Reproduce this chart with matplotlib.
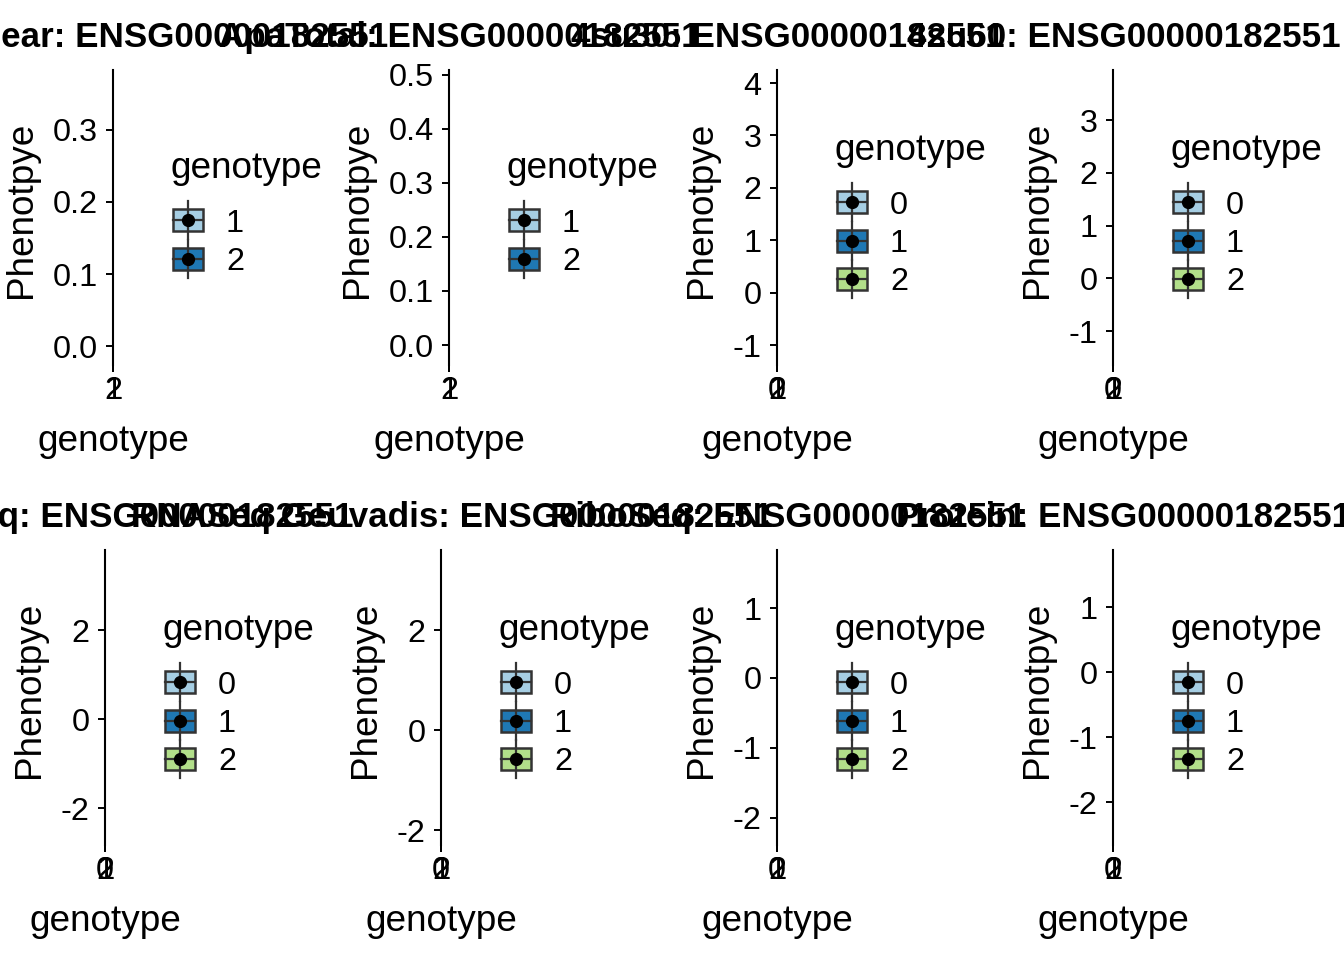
import matplotlib
matplotlib.use("Agg")
import matplotlib.pyplot as plt
from matplotlib.transforms import Affine2D
from matplotlib.patches import Rectangle
from matplotlib.lines import Line2D
from matplotlib.ticker import FormatStrFormatter

plt.rcParams["font.family"] = ["Liberation Sans", "DejaVu Sans"]
plt.rcParams["axes.unicode_minus"] = False

# ---------------- data ----------------
titles = [
    "ApaNuclear: ENSG00000182551",
    "ApaTotal: ENSG00000182551",
    "4su30: ENSG00000182551",
    "4su60: ENSG00000182551",
    "RNASeq: ENSG00000182551",
    "RNASeq Geuvadis: ENSG00000182551",
    "RiboSeq: ENSG00000182551",
    "Protein: ENSG00000182551",
]
genotypes = [[1, 2], [1, 2], [0, 1, 2], [0, 1, 2],
             [0, 1, 2], [0, 1, 2], [0, 1, 2], [0, 1, 2]]
y_limits = [(-0.026, 0.383), (-0.037, 0.509), (-1.38, 4.25), (-1.64, 3.95),
            (-2.83, 3.80), (-2.30, 3.60), (-2.39, 1.83), (-2.66, 1.88)]
y_ticks = [[0.0, 0.1, 0.2, 0.3], [0.0, 0.1, 0.2, 0.3, 0.4, 0.5],
           [-1, 0, 1, 2, 3, 4], [-1, 0, 1, 2, 3],
           [-2, 0, 2], [-2, 0, 2], [-2, -1, 0, 1], [-2, -1, 0, 1]]
y_decimals = [1, 1, 0, 0, 0, 0, 0, 0]
palette = ["#A6CEE3", "#1F78B4", "#B2DF8A"]
x_label = "genotype"
y_label = "Phenotpye"
legend_title = "genotype"

# ---------------- layout ----------------
W, H = 1344, 960
fig = plt.figure(figsize=(W / 100, H / 100), dpi=100)
pix = Affine2D().scale(1 / W, -1 / H).translate(0, 1) + fig.transFigure

axis_x = [113, 449, 777, 1113, 105, 441, 777, 1113]
row_top = [70, 550]
row_bot = [365, 845]
EDGE = "#333333"

for i in range(8):
    r = i // 4
    ax_x = axis_x[i]
    yt, yb = row_top[r], row_bot[r]
    ax = fig.add_axes([ax_x / W, 1 - yb / H, 0.5 / W, (yb - yt) / H])
    ax.patch.set_visible(False)
    g = genotypes[i]
    ax.set_xlim(g[0] - 0.6, g[-1] + 0.6)
    ax.set_xticks(g)
    ax.set_xticklabels([str(v) for v in g])
    ax.set_ylim(*y_limits[i])
    ax.set_yticks(y_ticks[i])
    ax.yaxis.set_major_formatter(FormatStrFormatter("%%.%df" % y_decimals[i]))
    for s in ["top", "right", "bottom"]:
        ax.spines[s].set_visible(False)
    ax.spines["left"].set_linewidth(1.5)
    ax.spines["left"].set_color("black")
    ax.tick_params(axis="both", labelsize=23.3, length=5, width=1.4,
                   color="black", labelcolor="black")
    ax.tick_params(axis="y", pad=6)
    ax.tick_params(axis="x", pad=3)
    ax.set_xlabel(x_label, fontsize=26.6, labelpad=13)
    ax.set_ylabel(y_label, fontsize=26.6, labelpad=10)
    ax.yaxis.label.set_y(0.527)

    # title
    fig.text(ax_x + 11, yt - 23, titles[i], transform=pix, ha="center",
             va="baseline", fontsize=25.2, fontweight="bold")

    # legend
    n = len(g)
    first = (220 if n == 2 else 202) + 480 * r
    cx = ax_x + 75
    fig.text(ax_x + 57, first - 42, legend_title, transform=pix,
             ha="left", va="baseline", fontsize=26.6)
    for k, val in enumerate(g):
        cy = first + 38.5 * k
        fig.add_artist(Line2D([cx, cx], [cy - 19, cy + 19], color=EDGE,
                              lw=1.6, transform=pix))
        fig.add_artist(Rectangle((cx - 15, cy - 11), 30, 22, transform=pix,
                                 facecolor=palette[k], edgecolor=EDGE, lw=1.8))
        fig.add_artist(Line2D([cx - 15, cx + 15], [cy, cy], color=EDGE,
                              lw=1.6, transform=pix))
        fig.add_artist(Line2D([cx], [cy], marker="o", ms=8.5, color="black",
                              transform=pix))
        fig.text(cx + 38, cy + 11.5, str(val), transform=pix, ha="left",
                 va="baseline", fontsize=23.3)

fig.savefig("out.png", dpi=100, facecolor="white")
